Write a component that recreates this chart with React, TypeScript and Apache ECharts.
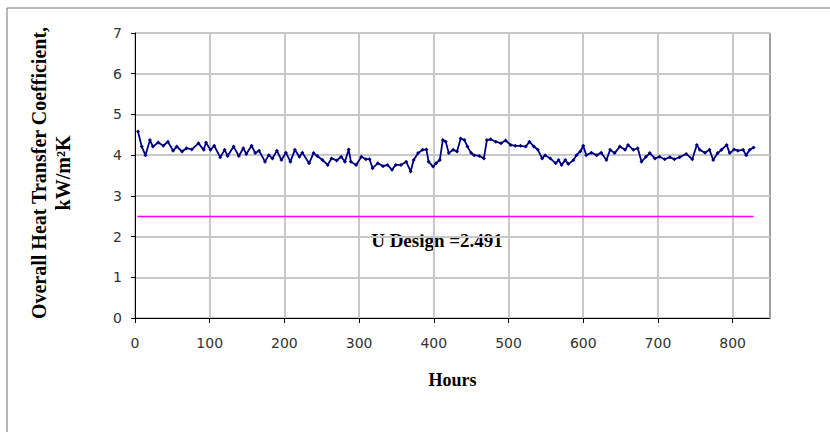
import React, { useEffect, useRef } from "react";
import * as echarts from "echarts";

const hours = [
  4, 9, 14, 20, 24, 31, 38, 44, 51, 56,
  63, 69, 76, 85, 92, 95, 101, 106, 114, 120,
  124, 132, 139, 145, 149, 156, 161, 166, 174, 179,
  184, 190, 196, 202, 208, 214, 220, 224, 233, 239,
  244, 251, 258, 263, 270, 276, 281, 286, 289, 296,
  303, 309, 314, 318, 325, 332, 338, 344, 349, 356,
  363, 369, 373, 379, 385, 390, 393, 399, 403, 408,
  412, 416, 420, 426, 431, 436, 441, 445, 450, 454,
  461, 467, 471, 476, 483, 490, 496, 503, 509, 516,
  523, 528, 534, 539, 545, 549, 556, 563, 567, 571,
  576, 580, 587, 591, 596, 600, 604, 611, 618, 624,
  631, 636, 642, 649, 656, 660, 667, 673, 678, 684,
  689, 696, 702, 709, 716, 722, 729, 738, 746, 752,
  756, 763, 769, 774, 780, 785, 792, 796, 802, 807,
  814, 818, 823, 828,
];

const uValues = [
  4.58, 4.21, 4.0, 4.37, 4.21, 4.31, 4.23, 4.33, 4.11, 4.21,
  4.09, 4.17, 4.14, 4.29, 4.13, 4.31, 4.13, 4.23, 3.95, 4.13,
  3.98, 4.21, 3.98, 4.17, 4.03, 4.23, 4.05, 4.11, 3.84, 4.0,
  3.92, 4.11, 3.88, 4.06, 3.84, 4.13, 3.96, 4.06, 3.8, 4.05,
  3.98, 3.88, 3.76, 3.92, 3.87, 3.96, 3.84, 4.14, 3.84, 3.76,
  3.96, 3.9, 3.9, 3.68, 3.8, 3.73, 3.76, 3.64, 3.76, 3.76,
  3.84, 3.6, 3.88, 4.05, 4.13, 4.14, 3.84, 3.72, 3.8, 3.88,
  4.37, 4.33, 4.05, 4.13, 4.09, 4.41, 4.37, 4.21, 4.05, 4.0,
  3.98, 3.92, 4.37, 4.39, 4.33, 4.29, 4.36, 4.25, 4.23, 4.23,
  4.21, 4.33, 4.21, 4.14, 3.92, 4.0, 3.92, 3.8, 3.88, 3.76,
  3.88, 3.78, 3.88, 4.0, 4.09, 4.23, 4.0, 4.06, 4.0, 4.06,
  3.88, 4.13, 4.05, 4.21, 4.13, 4.25, 4.13, 4.17, 3.84, 3.96,
  4.05, 3.92, 3.96, 3.9, 3.95, 3.9, 3.95, 4.03, 3.9, 4.25,
  4.13, 4.06, 4.13, 3.88, 4.05, 4.13, 4.25, 4.05, 4.14, 4.11,
  4.13, 4.0, 4.13, 4.19,
];

const designU = 2.491;
const designRange = [3, 828];
const xTicks = [0, 100, 200, 300, 400, 500, 600, 700, 800];
const designLabel = "U Design =2.491";
const yTitle1 = "Overall Heat Transfer Coefficient,";
const yTitle2 = "kW/m²K";
const xTitle = "Hours";

export default function App() {
  const ref = useRef<HTMLDivElement>(null);
  useEffect(() => {
    if (!ref.current) return;
    const chart = echarts.init(ref.current, null, { renderer: "svg" });
    const data = hours.map((h, i) => [h, uValues[i]]);
    const serif = "'Liberation Serif', 'Times New Roman', serif";
    const sans = "'DejaVu Sans', Verdana, sans-serif";
    chart.setOption({
      animation: false,
      backgroundColor: "#ffffff",
      grid: {
        left: 135,
        right: 60,
        top: 33,
        bottom: 114,
        show: true,
        borderColor: "#404040",
        borderWidth: 1,
      },
      xAxis: {
        type: "value",
        min: 0,
        max: 850,
        interval: 100,
        name: xTitle,
        nameLocation: "middle",
        nameGap: 53,
        nameTextStyle: { fontFamily: serif, fontWeight: "bold", fontSize: 18, color: "#000" },
        axisLine: { show: true, onZero: false, lineStyle: { color: "#000", width: 1 } },
        axisTick: { show: true, length: 5, customValues: xTicks, lineStyle: { color: "#000" } },
        axisLabel: { customValues: xTicks, margin: 18, fontFamily: sans, fontSize: 14, color: "#333" },
        splitLine: { show: true, lineStyle: { color: "#c8c8c8", width: 2 } },
      },
      yAxis: {
        type: "value",
        min: 0,
        max: 7,
        interval: 1,
        axisLine: { show: true, onZero: false, lineStyle: { color: "#000", width: 1 } },
        axisTick: { show: true, length: 4, lineStyle: { color: "#000" } },
        axisLabel: { margin: 13, fontFamily: sans, fontSize: 14, color: "#333" },
        splitLine: { show: true, lineStyle: { color: "#c8c8c8", width: 2 } },
      },
      graphic: [
        { type: "line", shape: { x1: 7, y1: 8, x2: 830, y2: 8 }, style: { stroke: "#707070", lineWidth: 1 } },
        { type: "line", shape: { x1: 7, y1: 8, x2: 7, y2: 432 }, style: { stroke: "#707070", lineWidth: 1 } },
        {
          type: "text",
          x: 39,
          y: 173,
          rotation: Math.PI / 2,
          style: {
            text: yTitle1,
            fontFamily: serif,
            fontWeight: "bold",
            fontSize: 20,
            fill: "#000",
            align: "center",
            verticalAlign: "middle",
          },
        },
        {
          type: "text",
          x: 63,
          y: 173,
          rotation: Math.PI / 2,
          style: {
            text: yTitle2,
            fontFamily: serif,
            fontWeight: "bold",
            fontSize: 20,
            fill: "#000",
            align: "center",
            verticalAlign: "middle",
          },
        },
        {
          type: "text",
          x: 437,
          y: 240,
          style: {
            text: designLabel,
            fontFamily: serif,
            fontWeight: "bold",
            fontSize: 19,
            fill: "#000",
            align: "center",
            verticalAlign: "middle",
          },
        },
      ],
      series: [
        {
          type: "line",
          data: designRange.map((h) => [h, designU]),
          symbol: "none",
          lineStyle: { color: "#ff00ff", width: 1.5 },
          z: 3,
        },
        {
          type: "line",
          data,
          symbol: "diamond",
          symbolSize: 4,
          itemStyle: { color: "#000080" },
          lineStyle: { color: "#000080", width: 1.8 },
          z: 4,
        },
      ],
    });
    return () => chart.dispose();
  }, []);
  return (
    <div
      ref={ref}
      style={{ position: "fixed", left: 0, top: 0, width: 830, height: 432 }}
    />
  );
}
